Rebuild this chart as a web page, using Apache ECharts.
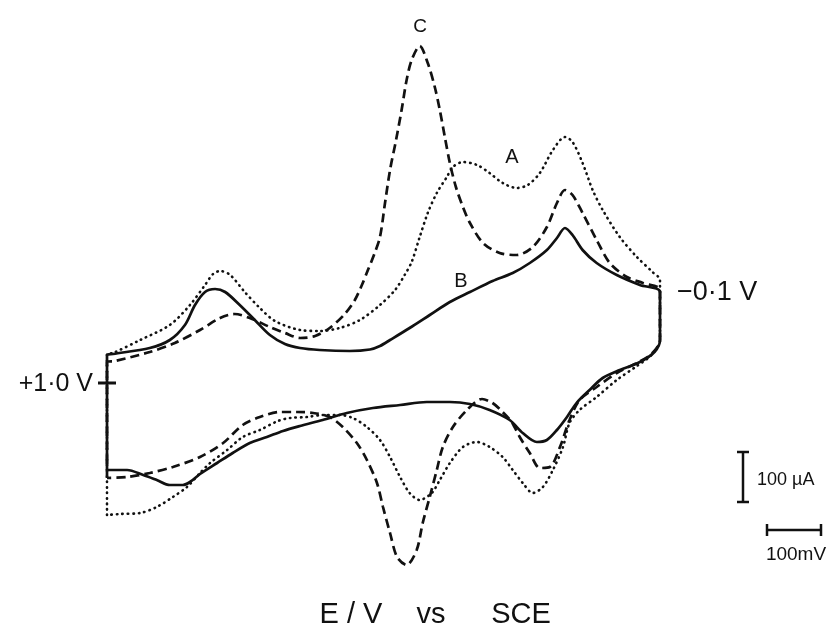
<!DOCTYPE html>
<html>
<head>
<meta charset="utf-8">
<script src="https://cdn.jsdelivr.net/npm/echarts@6/dist/echarts.min.js"></script>
<style>
html,body{margin:0;padding:0;background:#fff;}
#chart{width:829px;height:630px;}
</style>
</head>
<body>
<div id="chart"></div>
<script>
// Potential E (V vs SCE) and current I (µA, arbitrary zero)
const potentialA = [1.000,1.000,0.988,0.934,0.875,0.835,0.805,0.789,0.775,0.755,0.726,0.696,0.666,0.616,0.577,0.537,0.497,0.457,0.427,0.408,0.394,0.378,0.362,0.344,0.324,0.312,0.292,0.264,0.239,0.213,0.185,0.163,0.139,0.113,0.089,0.074,0.054,0.034,0.014,-0.020,-0.054,-0.085,-0.100,-0.100,-0.083,-0.054,-0.014,0.026,0.060,0.080,0.093,0.113,0.133,0.153,0.173,0.193,0.213,0.239,0.264,0.292,0.318,0.338,0.354,0.378,0.398,0.417,0.437,0.457,0.483,0.511,0.537,0.571,0.602,0.636,0.660,0.696,0.730,0.761,0.795,0.815,0.841,0.869,0.901,0.934,0.974,1.000];
const currentA = [-290,32,34,60,90,130,170,192,198,190,156,124,98,80,78,84,100,130,160,190,216,266,314,354,386,406,416,410,394,374,364,370,394,440,466,456,414,360,320,266,226,196,180,60,30,8,-20,-54,-80,-106,-154,-200,-234,-246,-226,-200,-174,-154,-144,-154,-186,-220,-246,-260,-246,-214,-174,-140,-114,-96,-90,-90,-94,-96,-102,-120,-134,-160,-186,-206,-234,-254,-274,-286,-288,-290];

const potentialB = [1.000,1.000,0.988,0.915,0.875,0.845,0.825,0.805,0.785,0.765,0.736,0.706,0.676,0.646,0.616,0.577,0.517,0.477,0.457,0.437,0.398,0.358,0.318,0.278,0.233,0.193,0.159,0.125,0.105,0.089,0.074,0.054,0.026,-0.014,-0.060,-0.100,-0.100,-0.089,-0.060,-0.020,0.014,0.040,0.066,0.085,0.105,0.125,0.145,0.173,0.199,0.239,0.278,0.318,0.364,0.417,0.471,0.523,0.571,0.616,0.650,0.682,0.716,0.750,0.781,0.815,0.835,0.849,0.875,0.901,0.928,0.960,1.000];
const currentB = [-200,30,32,44,60,90,130,156,162,156,130,100,70,52,44,40,38,41,48,60,84,110,136,156,178,194,214,240,264,284,270,240,214,190,170,156,60,36,16,0,-16,-40,-66,-94,-120,-140,-144,-126,-100,-80,-68,-64,-64,-70,-76,-86,-100,-112,-122,-134,-146,-166,-186,-208,-224,-230,-230,-220,-210,-200,-200];

const potentialC = [1.000,1.000,0.984,0.915,0.865,0.815,0.775,0.746,0.716,0.676,0.646,0.616,0.586,0.557,0.527,0.507,0.493,0.481,0.469,0.457,0.447,0.437,0.425,0.414,0.404,0.394,0.378,0.362,0.348,0.338,0.328,0.318,0.306,0.292,0.278,0.252,0.219,0.185,0.153,0.125,0.105,0.089,0.074,0.054,0.026,0.000,-0.034,-0.066,-0.100,-0.100,-0.083,-0.054,-0.014,0.026,0.060,0.080,0.099,0.119,0.139,0.159,0.179,0.195,0.213,0.233,0.254,0.284,0.312,0.332,0.344,0.358,0.372,0.384,0.404,0.423,0.437,0.451,0.463,0.483,0.503,0.531,0.557,0.590,0.622,0.656,0.696,0.730,0.769,0.815,0.869,0.915,0.960,1.000];
const currentC = [-216,16,18,36,54,80,104,112,104,86,74,64,68,84,112,140,170,200,230,266,334,400,460,520,580,620,648,614,566,520,466,414,366,326,294,254,234,230,246,286,334,360,350,314,260,214,186,174,160,60,32,14,-6,-34,-60,-100,-154,-194,-196,-166,-134,-104,-84,-66,-58,-80,-114,-154,-200,-254,-306,-360,-390,-374,-326,-274,-226,-180,-146,-114,-94,-86,-84,-84,-94,-110,-146,-174,-194,-206,-214,-216];

const curveNames = ['A', 'B', 'C'];
const axisEnds = ['+1·0 V', '−0·1 V'];
const axisTitle = ['E / V', 'vs', 'SCE'];
const scaleLabels = ['100 µA', '100mV'];

function zip(e, i) { return e.map((v, k) => [v, i[k]]); }

const INK = '#111';
const FONT = "'Liberation Sans', Arial, sans-serif";

const chart = echarts.init(document.getElementById('chart'), null, {renderer: 'canvas'});
chart.setOption({
  backgroundColor: '#fff',
  animation: false,
  grid: {left: 107, right: 169, top: 40, bottom: 60},
  xAxis: {type: 'value', min: -0.1, max: 1.0, inverse: true, show: false},
  yAxis: {type: 'value', min: -400, max: 660, show: false},
  series: [
    {
      name: curveNames[0], type: 'line', data: zip(potentialA, currentA),
      showSymbol: false, smooth: 0.3, clip: false,
      lineStyle: {color: INK, width: 2.6, type: [0.5, 5], cap: 'round'}
    },
    {
      name: curveNames[1], type: 'line', data: zip(potentialB, currentB),
      showSymbol: false, smooth: 0.3, clip: false,
      lineStyle: {color: INK, width: 2.7, type: 'solid'}
    },
    {
      name: curveNames[2], type: 'line', data: zip(potentialC, currentC),
      showSymbol: false, smooth: 0.3, clip: false,
      lineStyle: {color: INK, width: 2.7, type: [9, 5]}
    }
  ],
  graphic: [
    {type: 'text', x: 420, y: 27, style: {text: curveNames[2], font: '19px ' + FONT, fill: INK, align: 'center', verticalAlign: 'middle'}},
    {type: 'text', x: 512, y: 157, style: {text: curveNames[0], font: '20px ' + FONT, fill: INK, align: 'center', verticalAlign: 'middle'}},
    {type: 'text', x: 461, y: 281, style: {text: curveNames[1], font: '20px ' + FONT, fill: INK, align: 'center', verticalAlign: 'middle'}},
    {type: 'text', x: 677, y: 293, style: {text: axisEnds[1], font: '27px ' + FONT, fill: INK, align: 'left', verticalAlign: 'middle'}},
    {type: 'text', x: 93, y: 384, style: {text: axisEnds[0], font: '25px ' + FONT, fill: INK, align: 'right', verticalAlign: 'middle'}},
    {type: 'line', shape: {x1: 98, y1: 383, x2: 116, y2: 383}, style: {stroke: INK, lineWidth: 3}},
    {type: 'text', x: 351, y: 615, style: {text: axisTitle[0], font: '29px ' + FONT, fill: INK, align: 'center', verticalAlign: 'middle'}},
    {type: 'text', x: 431, y: 615, style: {text: axisTitle[1], font: '29px ' + FONT, fill: INK, align: 'center', verticalAlign: 'middle'}},
    {type: 'text', x: 521, y: 615, style: {text: axisTitle[2], font: '29px ' + FONT, fill: INK, align: 'center', verticalAlign: 'middle'}},
    // scale bars
    {type: 'line', shape: {x1: 743, y1: 452, x2: 743, y2: 502}, style: {stroke: INK, lineWidth: 2.5}},
    {type: 'line', shape: {x1: 737, y1: 452, x2: 749, y2: 452}, style: {stroke: INK, lineWidth: 2.5}},
    {type: 'line', shape: {x1: 737, y1: 502, x2: 749, y2: 502}, style: {stroke: INK, lineWidth: 2.5}},
    {type: 'text', x: 757, y: 480, style: {text: scaleLabels[0], font: '18px ' + FONT, fill: INK, align: 'left', verticalAlign: 'middle'}},
    {type: 'line', shape: {x1: 767, y1: 530, x2: 821, y2: 530}, style: {stroke: INK, lineWidth: 2.5}},
    {type: 'line', shape: {x1: 767, y1: 524, x2: 767, y2: 536}, style: {stroke: INK, lineWidth: 2.5}},
    {type: 'line', shape: {x1: 821, y1: 524, x2: 821, y2: 536}, style: {stroke: INK, lineWidth: 2.5}},
    {type: 'text', x: 796, y: 555, style: {text: scaleLabels[1], font: '19px ' + FONT, fill: INK, align: 'center', verticalAlign: 'middle'}}
  ]
});
</script>
</body>
</html>
